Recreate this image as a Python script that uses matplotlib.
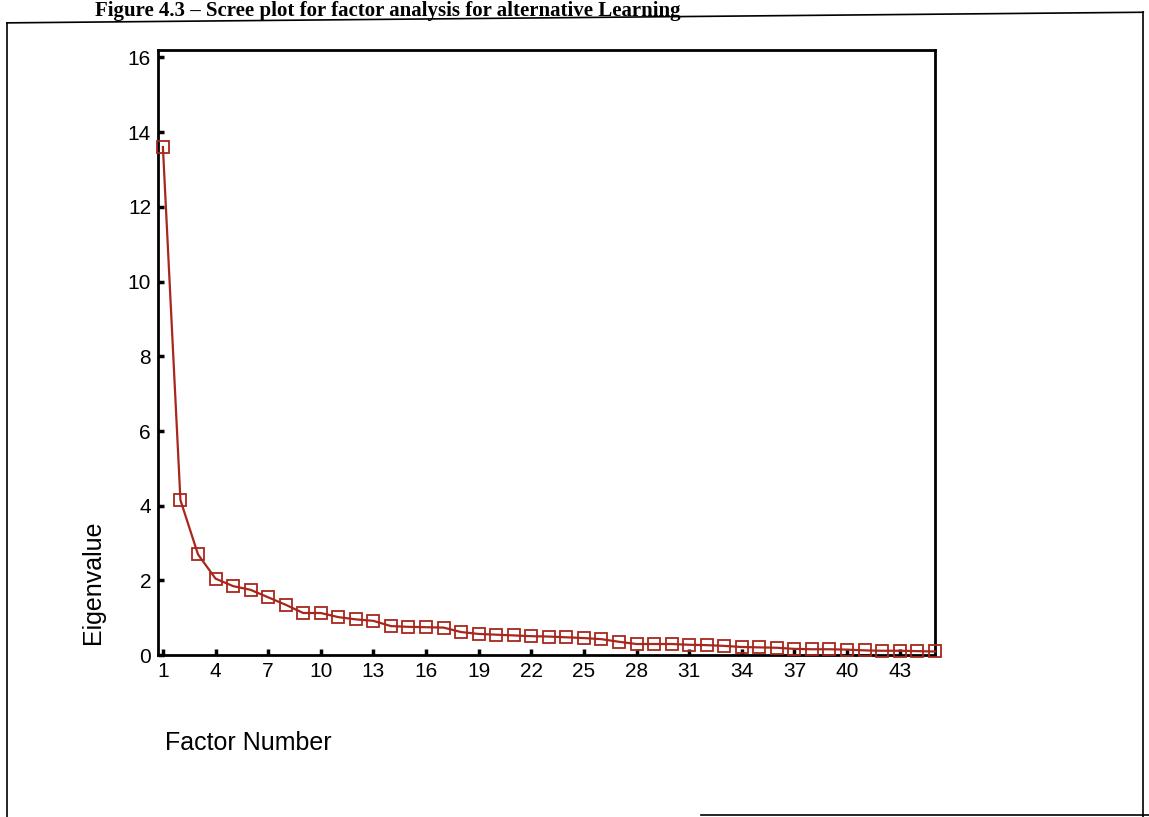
import matplotlib.pyplot as plt
from matplotlib.lines import Line2D

# eigenvalues
factor_number = list(range(1, 46))
eigenvalue = [13.6, 4.15, 2.7, 2.05, 1.85, 1.75, 1.55, 1.35, 1.13, 1.13,
              1.02, 0.96, 0.92, 0.78, 0.76, 0.75, 0.74, 0.62, 0.57, 0.55,
              0.53, 0.51, 0.5, 0.48, 0.46, 0.43, 0.36, 0.3, 0.3, 0.3,
              0.28, 0.27, 0.25, 0.22, 0.21, 0.2, 0.17, 0.16, 0.16, 0.15,
              0.13, 0.12, 0.12, 0.11, 0.1]
xtick_values = list(range(1, 44, 3))
ytick_values = list(range(0, 17, 2))

plt.rcParams['font.family'] = ['Liberation Sans', 'DejaVu Sans']

fig = plt.figure(figsize=(11.49, 8.17), dpi=100)
ax = fig.add_axes([0.1375, 0.198, 0.676, 0.741])

ax.plot(factor_number, eigenvalue, color='#a8261c', lw=1.6, marker='s',
        markersize=9, markerfacecolor='none', markeredgecolor='#a8261c',
        markeredgewidth=1.3, clip_on=False, zorder=3)

ax.set_xlim(0.72, 45)
ax.set_ylim(0, 16.2)
ax.set_xticks(xtick_values)
ax.set_yticks(ytick_values)
ax.tick_params(axis='both', labelsize=15, direction='in', length=4, width=2.5, pad=5)
for s in ax.spines.values():
    s.set_linewidth(2)
    s.set_color('black')

ax.set_ylabel('Eigenvalue', fontsize=18)
ax.yaxis.set_label_coords(-0.068, 0.12)
ax.set_xlabel('Factor Number', fontsize=18, ha='left', va='top')
ax.xaxis.set_label_coords(0.009, -0.125)

# caption at the top of the scan
fig.text(0.083, 0.999, 'Figure 4.3 \u2013 Scree plot for factor analysis for alternative Learning',
         family=['Liberation Serif', 'DejaVu Serif'], fontweight='bold', fontsize=15,
         va='top', ha='left')

# outer frame of the scanned figure
fig.add_artist(Line2D([0.006, 0.006], [0.0, 0.972], color='black', lw=1.2))
fig.add_artist(Line2D([0.006, 0.995], [0.972, 0.985], color='black', lw=1.2))
fig.add_artist(Line2D([0.995, 0.995], [0.985, 0.0], color='black', lw=1.2))
fig.add_artist(Line2D([0.61, 1.0], [0.003, 0.003], color='black', lw=1.2))

fig.savefig('out.png', dpi=100)
